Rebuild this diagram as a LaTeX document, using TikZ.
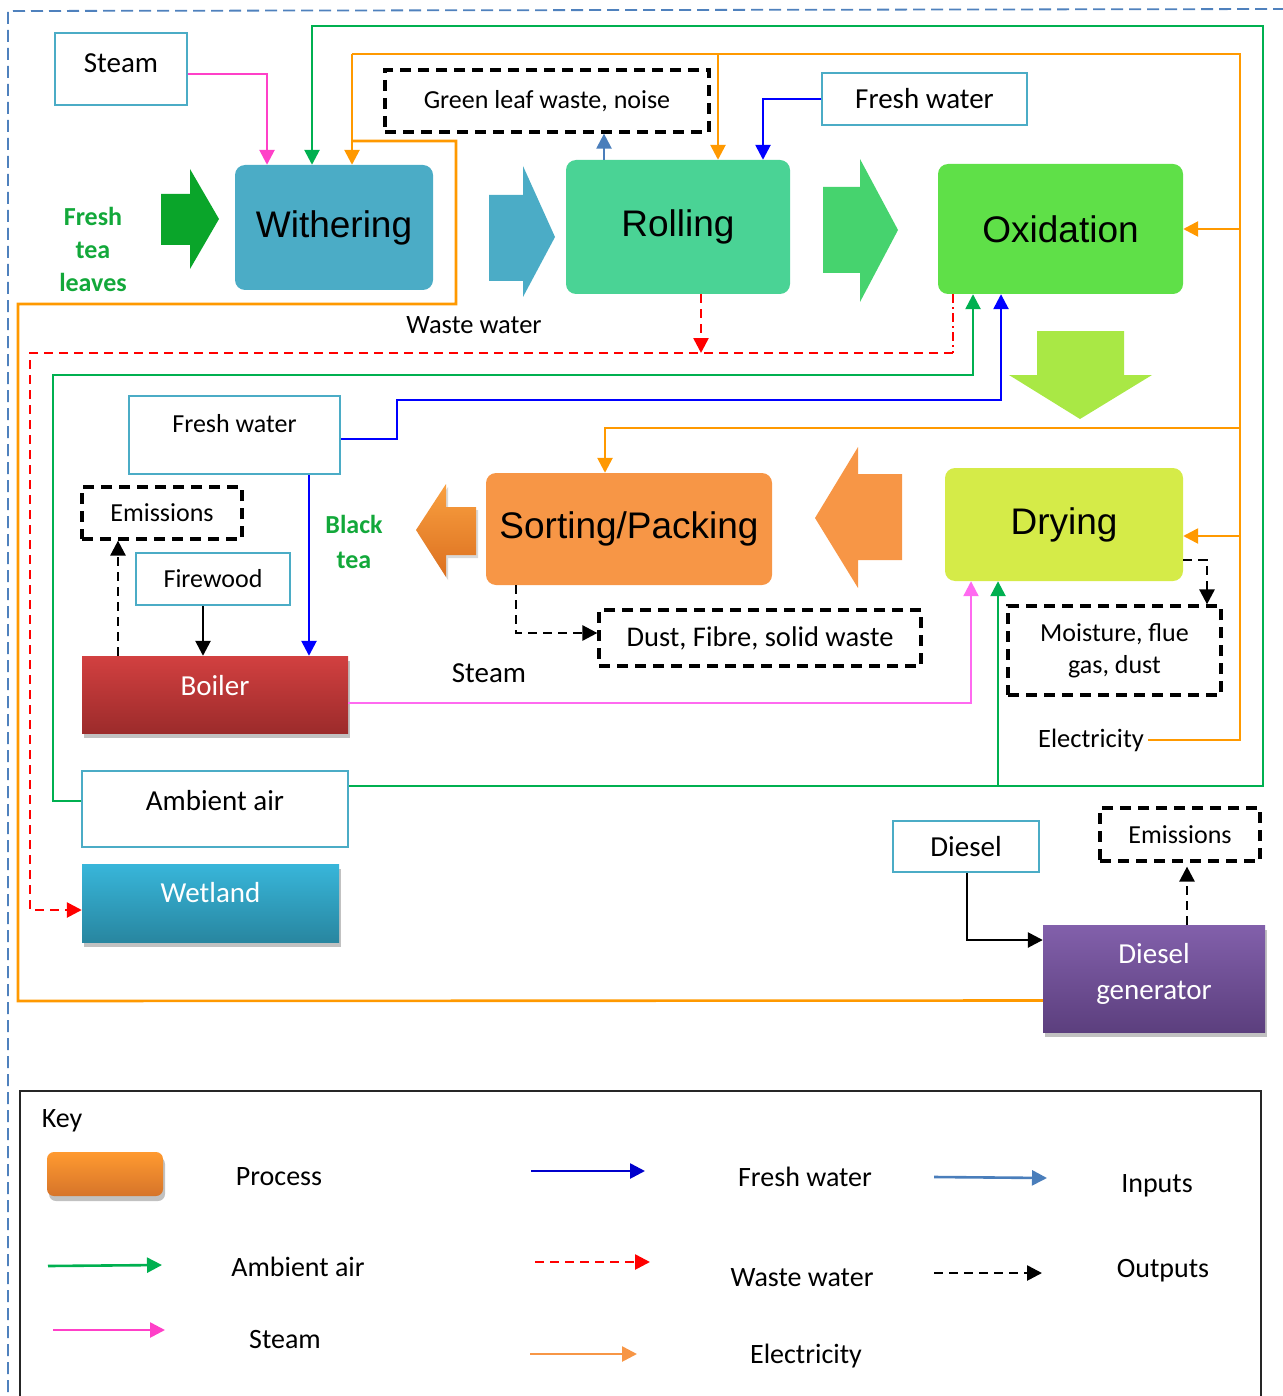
\documentclass[tikz,border=0pt]{standalone}
\usepackage{fontspec}
\setmainfont{Carlito}
\newfontfamily\arialf{Liberation Sans}
\usetikzlibrary{arrows.meta,shadows}
\definecolor{withc}{HTML}{4BACC6}
\definecolor{rollc}{HTML}{4AD395}
\definecolor{oxic}{HTML}{5FE048}
\definecolor{sortc}{HTML}{F79646}
\definecolor{dryc}{HTML}{D5EB48}
\definecolor{inbc}{HTML}{4BACC6}
\definecolor{grn}{HTML}{00B050}
\definecolor{org}{HTML}{FF9900}
\definecolor{blu}{HTML}{0000FF}
\definecolor{pnk}{HTML}{FF40C8}
\definecolor{pnkb}{HTML}{FF6AF0}
\definecolor{stb}{HTML}{4A7EBB}
\definecolor{teagreen}{HTML}{12A83A}
\definecolor{arrga}{HTML}{0AA52A}
\definecolor{arrgb}{HTML}{46D36E}
\definecolor{arryg}{HTML}{A9E845}
\definecolor{bord}{HTML}{4F81BD}
\definecolor{boila}{HTML}{D24040}
\definecolor{boilb}{HTML}{9C2B2B}
\definecolor{weta}{HTML}{38B6DA}
\definecolor{wetb}{HTML}{2886A0}
\definecolor{dgena}{HTML}{8260AB}
\definecolor{dgenb}{HTML}{5C3F7E}
\definecolor{btora}{HTML}{F9A040}
\definecolor{btorb}{HTML}{DC7020}
\definecolor{keyoa}{HTML}{FF9A30}
\definecolor{keyob}{HTML}{D6742A}
\definecolor{keyblu}{HTML}{0000CC}
\begin{document}
\begin{tikzpicture}[x=1pt,y=-1pt,
  conn/.style={line width=2.6pt},
  tip/.style={-{Triangle[length=15pt,width=15pt]}},
  dsh/.style={dash pattern=on 9pt off 6pt},
  dshdot/.style={dash pattern=on 9pt off 4pt on 2pt off 4pt},
  inbox/.style={draw=inbc,line width=2pt,fill=white,inner sep=0pt,font=\fontsize{27}{33}\selectfont},
  outbox/.style={draw=black,line width=3.2pt,dash pattern=on 11pt off 7pt,inner sep=0pt,align=center,font=\fontsize{26}{32}\selectfont},
  proc/.style={rounded corners=10pt,inner sep=0pt,font=\arialf\fontsize{37}{44}\selectfont},
  lbl/.style={inner sep=0pt,align=center,font=\fontsize{27}{33}\selectfont},
  wlbl/.style={inner sep=0pt,align=center,text=white,font=\fontsize{29}{36}\selectfont},
  keyl/.style={inner sep=0pt,font=\fontsize{28}{34}\selectfont},
  shd/.style={drop shadow={shadow xshift=2pt,shadow yshift=-5pt,opacity=0.35,fill=black!70}}
]
\useasboundingbox (0,0) rectangle (1282,1396);

% outer dashed border
\draw[bord,line width=1.8pt,dash pattern=on 12pt off 6pt] (8,1410) -- (8,11) -- (1295,9);

% big block arrows
\fill[arrga] (161,194) -- (190,194) -- (190,169) -- (219,219) -- (190,269) -- (190,245) -- (161,245) -- cycle;
\fill[withc] (489,195) -- (523,195) -- (523,166) -- (555,237) -- (523,297) -- (523,281) -- (489,281) -- cycle;
\fill[arrgb] (823,187) -- (860,187) -- (860,159) -- (898,230) -- (860,302) -- (860,273) -- (823,273) -- cycle;
\fill[arryg] (1037,331) -- (1124,331) -- (1124,375) -- (1152,375) -- (1080,419) -- (1009,375) -- (1037,375) -- cycle;
\fill[sortc] (902,474) -- (858,474) -- (858,447) -- (815,518) -- (858,588) -- (858,560) -- (902,560) -- cycle;
\path[top color=btora,bottom color=btorb,drop shadow={shadow xshift=2pt,shadow yshift=-3pt,opacity=0.3}] (476,507) -- (446,507) -- (446,484) -- (416,530) -- (446,577) -- (446,555) -- (476,555) -- cycle;

% process nodes
\node[proc,fill=withc,minimum width=198pt,minimum height=125pt] (with) at (334,227.5) {Withering};
\node[proc,fill=rollc,minimum width=224pt,minimum height=134pt] (roll) at (678,227) {Rolling};
\node[proc,fill=oxic,minimum width=245pt,minimum height=130pt] (oxi) at (1060.5,229) {Oxidation};
\node[proc,fill=sortc,minimum width=286pt,minimum height=112pt] (sort) at (629,529) {Sorting/Packing};
\node[proc,fill=dryc,minimum width=238pt,minimum height=113pt] (dry) at (1064,524.5) {Drying};

% input boxes
\node[inbox,minimum width=132pt,minimum height=72pt] (steam) at (121,69) {};
\node[lbl,font=\fontsize{29}{35}\selectfont] (steamt) at (121,63) {Steam};
\node[inbox,minimum width=205pt,minimum height=52pt,font=\fontsize{29}{35}\selectfont] (fw1) at (924.5,99) {Fresh water};
\node[inbox,minimum width=211pt,minimum height=78pt] (fw2) at (234.5,435) {};
\node[lbl,font=\fontsize{26}{32}\selectfont] (fw2t) at (234.5,424) {Fresh water};
\node[inbox,minimum width=154pt,minimum height=52pt,font=\fontsize{26}{32}\selectfont] (fire) at (213,579) {Firewood};
\node[inbox,minimum width=266pt,minimum height=76pt] (amb) at (215,809) {};
\node[lbl,font=\fontsize{29}{35}\selectfont] (ambt) at (215,801) {Ambient air};
\node[inbox,minimum width=146pt,minimum height=51pt,font=\fontsize{29}{35}\selectfont] (dies) at (966,846.5) {Diesel};

% output boxes
\node[outbox,minimum width=324pt,minimum height=62pt] (leaf) at (547,101) {Green leaf waste, noise};
\node[outbox,minimum width=160pt,minimum height=52pt] (em1) at (162,513) {Emissions};
\node[outbox,minimum width=322pt,minimum height=56pt,font=\fontsize{28.5}{34}\selectfont] (dust) at (760,638) {Dust, Fibre, solid waste};
\node[outbox,minimum width=213pt,minimum height=89pt] (moist) at (1114.5,650.5) {Moisture, flue\\gas, dust};
\node[outbox,minimum width=160pt,minimum height=53pt] (em2) at (1180,834.5) {Emissions};

% shaded boxes
\node[shd,top color=boila,bottom color=boilb,minimum width=266pt,minimum height=77pt,inner sep=0pt] (boil) at (215,694.5) {};
\node[wlbl] (boilt) at (215,686) {Boiler};
\node[shd,top color=weta,bottom color=wetb,minimum width=257pt,minimum height=78pt,inner sep=0pt] (wet) at (210.5,903) {};
\node[wlbl] (wett) at (210.5,893) {Wetland};
\node[shd,top color=dgena,bottom color=dgenb,minimum width=222pt,minimum height=107pt,inner sep=0pt] (dgen) at (1154,978.5) {};
\node[wlbl] (dgent) at (1154,974) {Diesel\\generator};

% free labels
\node[lbl,text=teagreen,font=\bfseries\fontsize{26}{33}\selectfont] (ftl) at (93,249) {Fresh\\tea\\leaves};
\node[lbl,text=teagreen,font=\bfseries\fontsize{26}{35}\selectfont] (bt) at (354,542) {Black\\tea};
\node[lbl,font=\fontsize{26.5}{32}\selectfont] (ww) at (474,325) {Waste water};
\node[lbl,font=\fontsize{29}{35}\selectfont] (stm) at (489,673) {Steam};
\node[lbl,font=\fontsize{26.5}{32}\selectfont] (elec) at (1091,740) {Electricity};

% steam to withering
\draw[conn,pnk,tip] ([yshift=-5pt]steam.east) -| ([xshift=-67pt]with.north);

% ambient air network
\coordinate (gBR) at (1263,786);
\coordinate (gTR) at (1263,26);
\coordinate (gTL) at (312,26);
\coordinate (gDry) at (998,786);
\draw[conn,grn,tip] ([yshift=23pt]amb.east) -- (gBR) -- (gTR) -- (gTL) -- (gTL |- with.north);
\draw[conn,grn,tip] (gDry) -- (gDry |- dry.south);
\coordinate (gLa) at (53,801);
\coordinate (gLb) at (53,375);
\coordinate (gLc) at (973,375);
\draw[conn,grn,tip] ([yshift=8pt]amb.west) -- (gLa) -- (gLb) -- (gLc) -- (gLc |- oxi.south);

% electricity network
\coordinate (oBL) at (18,1001);
\coordinate (oML) at (18,304);
\coordinate (oMR) at (456,304);
\coordinate (oTRb) at (456,141);
\coordinate (oJ) at (352,141);
\coordinate (oTL) at (352,54);
\coordinate (oTR) at (1240,54);
\coordinate (oBR) at (1240,740);
\draw[conn,org] ([yshift=-22pt]dgen.west) -- (oBL) -- (oML) -- (oMR) -- (oTRb) -- (oJ);
\draw[conn,org,tip] (oTL) -- (oTL |- with.north);
\draw[conn,org] (oTL) -- (oTR) -- (oBR) -- ([xshift=4pt]elec.east);
\coordinate (oRoll) at (718,54);
\draw[conn,org,tip] (oRoll) -- (oRoll |- roll.north);
\coordinate (oOx) at (1240,229);
\draw[conn,org,tip] (oOx) -- (oxi.east);
\coordinate (oSa) at (1240,428);
\coordinate (oSb) at (605,428);
\draw[conn,org,tip] (oSa) -- (oSb) -- (oSb |- sort.north);
\coordinate (oDr) at (1240,536);
\draw[conn,org,tip] (oDr) -- (oDr -| dry.east);

% fresh water
\draw[conn,blu,tip] (fw1.west) -| ([xshift=85pt]roll.north);
\coordinate (ba) at (397,439);
\coordinate (bb) at (397,400);
\coordinate (bc) at (1001,400);
\draw[conn,blu,tip] (fw2.east |- ba) -- (ba) -- (bb) -- (bc) -- (bc |- oxi.south);
\draw[conn,blu,tip] ([xshift=74.5pt]fw2.south) -- ([xshift=94pt]boil.north);

% waste water
\coordinate (rJ) at (701,353);
\draw[conn,red,dsh,tip] ([xshift=23pt]roll.south) -- (rJ);
\coordinate (rO) at (953,353);
\coordinate (rL) at (30,353);
\coordinate (rB) at (30,910);
\draw[conn,red,dshdot] ([xshift=-107.5pt]oxi.south) -- (rO);
\draw[conn,red,dsh,tip] (rO) -- (rL) -- (rB) -- (rB -| wet.west);

% rolling output
\draw[line width=2.2pt,stb,tip] ([xshift=-74pt]roll.north) -- ([xshift=57pt]leaf.south);

% outputs
\draw[conn,dsh,tip] ([yshift=-35.5pt]dry.east) -| ([xshift=92.5pt]moist.north);
\draw[conn,dsh,tip] ([xshift=-113pt]sort.south) |- ([yshift=5pt]dust.west);
\draw[conn,dsh,tip] ([xshift=-97pt]boil.north) -- ([xshift=-44pt]em1.south);
\draw[conn,dsh,tip] ([xshift=33pt]dgen.north) -- ([xshift=7pt,yshift=-4pt]em2.south);

% solid black
\draw[conn,tip] ([xshift=-10pt]fire.south) -- ([xshift=-12pt]boil.north);
\draw[conn,tip] ([xshift=1pt]dies.south) |- ([yshift=38.5pt]dgen.west);

% steam boiler to drying
\draw[line width=2.2pt,pnkb,tip] ([yshift=-8.5pt]boil.east) -| ([xshift=-93pt]dry.south);

% key
\draw[line width=1.8pt,black!85] (20,1091) rectangle (1261,1420);
\node[keyl] (keyt) at (62,1121) {Key};
\node[shd,rounded corners=7pt,top color=keyoa,bottom color=keyob,minimum width=116pt,minimum height=44pt,inner sep=0pt] (kp) at (105,1174) {};
\node[keyl] (kpt) at (279,1177) {Process};
\coordinate (kaa) at (531,1171); \coordinate (kab) at (645,1171);
\draw[conn,keyblu,tip] (kaa) -- (kab);
\node[keyl] (kat) at (805,1177) {Fresh water};
\coordinate (kba) at (934,1177); \coordinate (kbb) at (1047,1178);
\draw[conn,stb,tip] (kba) -- (kbb);
\node[keyl] (kbt) at (1157,1186) {Inputs};
\coordinate (kca) at (48,1266); \coordinate (kcb) at (162,1265);
\draw[conn,grn,tip] (kca) -- (kcb);
\node[keyl] (kct) at (298,1267) {Ambient air};
\coordinate (kda) at (535,1262); \coordinate (kdb) at (650,1262);
\draw[conn,red,dsh,tip] (kda) -- (kdb);
\node[keyl] (kdt) at (802,1278) {Waste water};
\coordinate (kea) at (934,1273); \coordinate (keb) at (1042,1273);
\draw[conn,dsh,tip] (kea) -- (keb);
\node[keyl] (ket) at (1163,1271) {Outputs};
\coordinate (kfa) at (53,1330); \coordinate (kfb) at (165,1330);
\draw[conn,pnk,tip] (kfa) -- (kfb);
\node[keyl] (kft) at (285,1340) {Steam};
\coordinate (kga) at (530,1354); \coordinate (kgb) at (637,1354);
\draw[conn,sortc,tip] (kga) -- (kgb);
\node[keyl] (kgt) at (806,1356) {Electricity};
\end{tikzpicture}
\end{document}
